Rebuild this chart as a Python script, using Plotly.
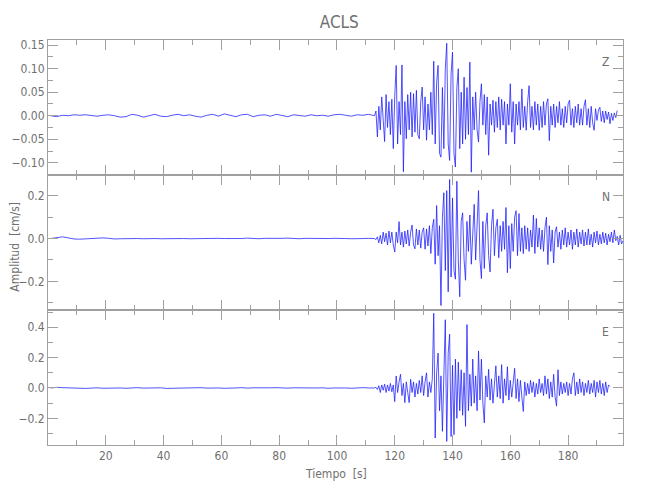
import numpy as np
import plotly.graph_objects as go
from plotly.subplots import make_subplots

# ---- data ----
station = "ACLS"
components = ["Z", "N", "E"]

quiet_start = 1.0   # s, quiet segment sample start
quiet_dt = 2.0      # s
active_start = 113.0
active_dt = 0.5

z_quiet = [0.000, -0.002, 0.001, 0.000, 0.002, 0.001, 0.002, 0.001, -0.001, 0.001,
           0.002, 0.000, -0.003, -0.002, 0.003, 0.001, -0.003, 0.000, 0.003, -0.001,
           -0.002, 0.001, 0.003, 0.000, 0.002, -0.001, -0.003, 0.001, 0.003, -0.001,
           0.004, 0.001, -0.002, 0.002, 0.003, -0.002, 0.001, 0.002, -0.001, 0.003,
           0.000, -0.002, 0.002, 0.001, -0.001, 0.002, 0.000, 0.001, -0.001, 0.002,
           0.003, 0.001, -0.001, 0.002, 0.001, 0.003]
z_active = [0.000, 0.010, -0.045, 0.020, -0.030, 0.040, -0.020, -0.055, 0.045, -0.025,
            0.030, -0.040, 0.035, -0.070, 0.040, 0.107, -0.060, 0.030, -0.040, 0.108,
            -0.119, 0.030, -0.049, 0.045, -0.030, 0.050, -0.045, 0.047, -0.035, 0.054,
            -0.040, -0.049, 0.030, 0.061, -0.030, 0.040, -0.052, 0.025, -0.030, 0.050,
            -0.040, 0.116, -0.060, 0.070, 0.107, -0.080, -0.088, 0.060, -0.070, 0.100,
            0.154, -0.060, -0.095, 0.090, 0.135, -0.080, -0.109, 0.060, 0.100, -0.070,
            0.050, -0.060, 0.082, -0.050, 0.060, -0.040, 0.114, -0.120, 0.040, -0.030,
            0.050, -0.030, -0.056, 0.030, 0.068, -0.020, 0.045, -0.040, 0.040, -0.084,
            0.025, -0.020, 0.033, -0.035, 0.030, -0.025, 0.040, -0.030, 0.035, -0.020,
            0.030, -0.060, 0.025, -0.020, 0.068, -0.035, 0.030, -0.060, 0.025, -0.020,
            0.030, -0.030, 0.057, -0.025, 0.020, -0.031, 0.030, 0.064, -0.025, 0.020,
            -0.030, 0.030, -0.020, 0.025, -0.031, 0.020, -0.025, 0.030, -0.020, 0.025,
            0.036, -0.053, 0.020, -0.020, 0.025, -0.025, 0.020, -0.015, 0.030, -0.020,
            0.015, -0.025, 0.020, -0.015, 0.025, 0.033, -0.020, 0.015, -0.025, 0.020,
            -0.015, 0.025, -0.020, 0.015, -0.020, 0.020, 0.034, -0.020, 0.015, -0.025,
            0.020, -0.015, -0.031, 0.015, -0.010, 0.012, 0.018, -0.012, 0.010, -0.015,
            0.010, -0.008, 0.008, -0.017, 0.005, -0.010, 0.006, -0.004, 0.011]

n_quiet = [0.000, 0.004, 0.008, 0.003, -0.002, -0.003, -0.001, 0.000, 0.002, 0.003,
           0.001, -0.002, -0.001, 0.000, 0.001, 0.000, -0.001, 0.001, 0.000, -0.001,
           0.000, 0.001, 0.002, 0.000, -0.001, 0.000, 0.001, -0.001, 0.000, 0.001,
           0.000, -0.001, 0.001, 0.000, 0.002, 0.000, -0.001, 0.001, 0.000, -0.001,
           0.001, 0.002, 0.000, -0.001, 0.001, 0.000, 0.001, -0.001, 0.000, 0.001,
           0.002, 0.000, -0.001, 0.001, 0.000, 0.001]
n_active = [0.000, -0.005, 0.008, -0.020, 0.015, -0.025, 0.030, -0.015, 0.025, -0.030,
            0.035, -0.020, 0.030, -0.030, -0.063, 0.030, -0.020, 0.079, -0.030, 0.030,
            -0.040, 0.035, -0.025, 0.040, -0.035, 0.030, 0.063, -0.030, -0.048, 0.045,
            -0.030, 0.040, -0.045, 0.030, 0.050, -0.050, 0.045, -0.035, 0.060, -0.070,
            0.050, 0.090, -0.120, 0.154, -0.080, 0.060, -0.313, 0.100, 0.214, -0.150,
            0.224, -0.249, 0.276, -0.180, 0.190, -0.150, -0.190, 0.268, -0.100, -0.272,
            0.080, 0.120, -0.100, -0.195, 0.080, -0.060, 0.110, -0.120, 0.060, 0.160,
            -0.100, 0.090, 0.224, -0.100, -0.187, 0.080, -0.140, 0.060, 0.120, -0.080,
            -0.156, 0.060, 0.137, -0.080, 0.050, 0.090, -0.090, 0.060, -0.060, 0.080,
            -0.050, 0.145, -0.160, 0.060, -0.140, 0.070, -0.060, 0.100, 0.130, -0.080,
            0.117, -0.060, 0.050, -0.070, 0.060, -0.050, 0.050, -0.060, 0.040, -0.040,
            0.110, -0.070, 0.094, -0.040, 0.050, -0.050, 0.040, -0.060, 0.050, 0.100,
            -0.122, 0.060, -0.060, 0.040, -0.114, 0.030, 0.055, -0.040, 0.030, -0.050,
            0.040, -0.030, 0.050, -0.040, 0.030, -0.030, 0.040, -0.050, 0.030, -0.030,
            0.045, -0.040, 0.030, -0.025, 0.040, -0.035, 0.030, -0.030, 0.045, -0.030,
            0.020, -0.040, 0.030, -0.020, 0.035, -0.030, 0.020, -0.025, 0.030, -0.020,
            0.025, -0.030, 0.020, -0.015, 0.030, -0.020, 0.040, -0.010, 0.010, -0.030,
            0.015, -0.025, -0.010]

e_quiet = [0.000, 0.004, 0.002, 0.000, 0.002, -0.001, -0.003, -0.001, 0.001, -0.002,
           -0.001, 0.001, 0.000, -0.002, 0.000, 0.002, -0.001, 0.000, 0.003, 0.001,
           -0.003, -0.002, 0.000, 0.001, -0.001, 0.000, 0.002, -0.001, 0.001, 0.000,
           -0.002, 0.001, 0.000, 0.002, -0.001, 0.001, 0.000, -0.002, 0.001, 0.002,
           0.000, -0.001, 0.001, 0.000, 0.002, -0.001, 0.000, 0.001, -0.002, 0.000,
           0.002, 0.000, -0.002, 0.001, 0.002, 0.000]
e_active = [0.000, 0.005, -0.010, 0.015, -0.030, 0.020, -0.015, 0.025, -0.030, 0.020,
            -0.020, 0.030, -0.025, 0.020, -0.090, 0.079, -0.030, 0.040, 0.090, -0.050,
            0.030, -0.097, 0.040, -0.030, -0.097, 0.057, -0.030, 0.040, -0.060, 0.030,
            -0.040, 0.050, -0.030, 0.080, -0.050, 0.040, 0.100, -0.060, 0.040, -0.030,
            0.060, 0.493, -0.330, 0.100, 0.230, -0.150, 0.080, -0.286, 0.200, 0.450,
            -0.352, 0.230, 0.354, -0.320, 0.150, -0.308, 0.190, -0.200, 0.170, -0.150,
            0.120, -0.180, 0.100, -0.253, 0.418, -0.150, 0.090, -0.120, 0.190, -0.100,
            0.080, -0.150, 0.244, -0.080, 0.190, -0.100, -0.230, 0.080, -0.060, 0.123,
            -0.080, 0.060, -0.100, 0.050, 0.146, -0.060, 0.080, -0.070, 0.154, -0.100,
            0.060, -0.050, 0.140, -0.080, 0.050, -0.060, 0.040, 0.130, -0.070, 0.060,
            -0.090, 0.050, -0.060, -0.155, 0.040, -0.050, 0.030, -0.040, 0.050, -0.030,
            0.040, -0.060, 0.030, -0.040, 0.060, -0.030, 0.030, -0.050, 0.080, -0.040,
            0.060, -0.070, 0.040, -0.060, 0.090, -0.060, -0.120, 0.120, -0.050, 0.040,
            -0.040, 0.030, -0.030, 0.040, -0.050, 0.030, -0.040, 0.060, 0.100, -0.050,
            0.040, -0.040, 0.060, -0.030, 0.040, -0.050, 0.030, -0.030, 0.050, -0.040,
            0.030, -0.030, 0.050, -0.060, 0.040, -0.030, 0.050, -0.040, 0.030, -0.050,
            0.040, -0.030, 0.020, 0.010]

y_ranges = [[-0.126, 0.161], [-0.334, 0.297], [-0.376, 0.514]]
y_ticks = [[-0.10, -0.05, 0.00, 0.05, 0.10, 0.15], [-0.2, 0.0, 0.2], [-0.2, 0.0, 0.2, 0.4]]
y_minor = [0.025, 0.1, 0.1]
y_fmt = [".2f", ".1f", ".1f"]
x_ticks = [20, 40, 60, 80, 100, 120, 140, 160, 180]
x_range = [0, 199]


def series(quiet, active):
    tq = quiet_start + quiet_dt * np.arange(len(quiet))
    ta = active_start + active_dt * np.arange(len(active))
    return np.concatenate([tq, ta]), np.array(quiet + active)


traces = [series(z_quiet, z_active), series(n_quiet, n_active), series(e_quiet, e_active)]

# ---- figure ----
AX = "#a0a0a0"
TX = "#707070"
FONT = "Liberation Sans Narrow, DejaVu Sans Condensed, Arial Narrow, sans-serif"

fig = make_subplots(rows=3, cols=1, shared_xaxes=True, vertical_spacing=0)
for i, (t, v) in enumerate(traces):
    fig.add_trace(go.Scatter(x=t, y=v, mode="lines",
                             line=dict(color="#1a1aff", width=0.75),
                             showlegend=False, hoverinfo="skip"), row=i + 1, col=1)
    fig.update_yaxes(range=y_ranges[i], tickvals=y_ticks[i], tickformat=y_fmt[i],
                     ticks="inside", ticklen=10, tickcolor=AX, showline=True,
                     linecolor=AX, linewidth=1, mirror="ticks", showgrid=False,
                     zeroline=False, automargin=False,
                     tickfont=dict(family=FONT, size=12, color=TX),
                     minor=dict(dtick=y_minor[i], tick0=0, ticks="inside", ticklen=5,
                                tickcolor=AX, showgrid=False),
                     row=i + 1, col=1)
    fig.update_xaxes(range=x_range, tickvals=x_ticks, ticks="inside", ticklen=10,
                     tickcolor=AX, showline=True, linecolor=AX, linewidth=1,
                     mirror="ticks", showgrid=False, zeroline=False, automargin=False,
                     showticklabels=(i == 2),
                     tickfont=dict(family=FONT, size=12, color=TX),
                     minor=dict(dtick=10, tick0=0, ticks="inside", ticklen=5,
                                tickcolor=AX, showgrid=False),
                     row=i + 1, col=1)

label_y = [0.946, 0.612, 0.28]
for comp, ly in zip(components, label_y):
    fig.add_annotation(text=comp, x=0.970, y=ly, xref="paper", yref="paper",
                       xanchor="center", yanchor="middle",
                       showarrow=False, font=dict(family=FONT, size=12, color=TX))

fig.add_annotation(text="Amplitud  [cm/s]", x=-0.059, y=0.49, xref="paper", yref="paper",
                   xanchor="center", yanchor="middle",
                   textangle=-90, showarrow=False,
                   font=dict(family=FONT, size=12, color=TX))
fig.add_annotation(text="Tiempo  [s]", x=0.5, y=-0.049, xref="paper", yref="paper",
                   xanchor="center", yanchor="top", showarrow=False,
                   font=dict(family=FONT, size=12, color=TX))

fig.update_layout(
    width=642, height=492,
    margin=dict(l=40, r=27, t=32, b=55, autoexpand=False),
    paper_bgcolor="white", plot_bgcolor="white",
    title=dict(text=station, x=0.516, xanchor="center", y=0.9715, yanchor="middle",
               font=dict(family=FONT, size=17, color=TX)),
)

fig.write_html("out.html")
